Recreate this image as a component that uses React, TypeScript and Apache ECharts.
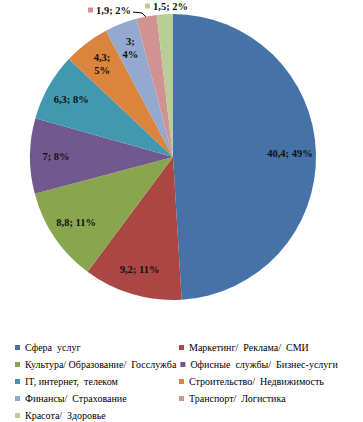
import React, { useEffect, useRef } from 'react';
import * as echarts from 'echarts';

const categories = [
  'Сфера  услуг',
  'Маркетинг/  Реклама/  СМИ',
  'Культура/ Образование/  Госслужба',
  'Офисные  службы/  Бизнес-услуги',
  'IT, интернет,  телеком',
  'Строительство/  Недвижимость',
  'Финансы/  Страхование',
  'Транспорт/  Логистика',
  'Красота/  Здоровье',
];
const values = [40.4, 9.2, 8.8, 7, 6.3, 4.3, 3, 1.9, 1.5];
const colors = ['#4572A7', '#AA4643', '#89A54E', '#71588F', '#4198AF', '#DB843D', '#93A9CF', '#D19392', '#B9CD96'];

const FONT = 'Liberation Serif';
const fmt = (v: number) => String(v).replace('.', ',');

export default function App() {
  const ref = useRef<HTMLDivElement>(null);
  useEffect(() => {
    document.body.style.margin = '0';
    const chart = echarts.init(ref.current!, undefined, { renderer: 'svg' });
    const total = values.reduce((a, b) => a + b, 0);
    const isSmall = (v: number) => (v / total) * 100 < 3;

    const mainData = categories.map((name, i) => ({
      name,
      value: values[i],
      itemStyle: { color: colors[i] },
      label: isSmall(values[i])
        ? {
            show: true,
            position: 'outside',
            formatter: (p: any) => `{sq|}{t|${fmt(p.value)}; ${p.percent}%}`,
            rich: {
              sq: { width: 5, height: 5, backgroundColor: colors[i] },
              t: { fontFamily: FONT, fontSize: 10.5, fontWeight: 'bold', color: '#111', padding: [0, 0, 0, 3] },
            },
          }
        : { show: false },
      labelLine: isSmall(values[i]) && i === 7
        ? { show: true, length: 4, length2: 8, lineStyle: { color: '#000', width: 1 } }
        : { show: false },
    }));

    const labelData = categories.map((name, i) => ({
      name,
      value: values[i],
      label: { show: !isSmall(values[i]) },
    }));

    chart.setOption({
      animation: false,
      color: colors,
      textStyle: { fontFamily: FONT },
      legend: {
        data: categories,
        left: 10,
        top: 336,
        width: 345,
        icon: 'rect',
        itemWidth: 5,
        itemHeight: 5,
        itemGap: 4,
        selectedMode: false,
        textStyle: { fontFamily: FONT, fontSize: 10, color: '#000', width: 150, lineHeight: 13 },
      },
      series: [
        {
          type: 'pie',
          center: [173, 157],
          radius: [0, 143],
          startAngle: 90,
          clockwise: true,
          percentPrecision: 0,
          avoidLabelOverlap: false,
          data: mainData,
          emphasis: { disabled: true },
          labelLayout: (p: any) => {
            if (p.dataIndex === 8) return { x: 145, y: 6, align: 'left', verticalAlign: 'middle' };
            if (p.dataIndex === 7)
              return {
                x: 88,
                y: 10,
                align: 'left',
                verticalAlign: 'middle',
                labelLinePoints: [[133, 12], [142, 13], [147, 18]],
              };
            return {};
          },
        },
        {
          type: 'pie',
          center: [173, 157],
          radius: [85, 143],
          startAngle: 90,
          clockwise: true,
          percentPrecision: 0,
          silent: true,
          legendHoverLink: false,
          itemStyle: { color: 'rgba(0,0,0,0)' },
          emphasis: { disabled: true },
          labelLine: { show: false },
          label: {
            show: true,
            position: 'inside',
            fontFamily: FONT,
            fontSize: 10.5,
            fontWeight: 'bold',
            color: '#111',
            lineHeight: 13,
            formatter: (p: any) =>
              p.percent < 6 ? `${fmt(p.value)};\n${p.percent}%` : `${fmt(p.value)}; ${p.percent}%`,
          },
          data: labelData,
        },
      ],
    });
    return () => chart.dispose();
  }, []);
  return <div ref={ref} style={{ position: 'absolute', left: 0, top: 0, width: 363, height: 422 }} />;
}
